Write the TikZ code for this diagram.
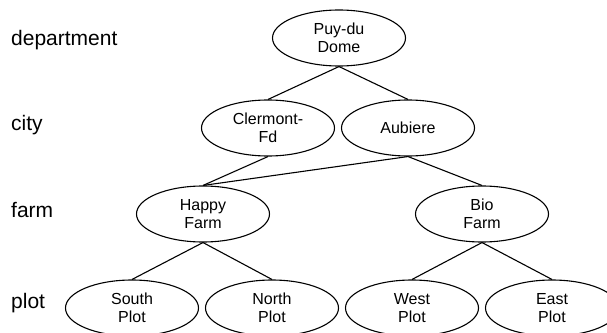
\documentclass[tikz,border=0pt]{standalone}
\usepackage{fontspec}
\setmainfont{Liberation Sans}
\usetikzlibrary{shapes.geometric}

\tikzset{
  entity/.style={draw=black, ellipse, line width=1.1pt, inner sep=0pt,
    minimum width=133pt, minimum height=56pt, align=center,
    font=\fontsize{16}{18}\selectfont},
  levellabel/.style={anchor=base west, inner sep=0pt,
    font=\fontsize{21}{24}\selectfont},
  link/.style={draw=black, line width=1.1pt}
}

\begin{document}
\begin{tikzpicture}[x=1pt, y=-1pt]
  \clip (0,0) rectangle (607,332);
  \useasboundingbox (0,0) rectangle (607,332);

  % hierarchy level names
  \node[levellabel] (ldep)  at (11,45)  {department};
  \node[levellabel] (lcity) at (11,130) {city};
  \node[levellabel] (lfarm) at (11,217) {farm};
  \node[levellabel] (lplot) at (11,308) {plot};

  % members of each level
  \node[entity] (puy)   at (339,38)  {Puy-du\\Dome};
  \node[entity] (cler)  at (268,128) {Clermont-\\Fd};
  \node[entity] (aub)   at (408,128) {Aubiere};
  \node[entity] (happy) at (203,214) {Happy\\Farm};
  \node[entity] (bio)   at (482,214) {Bio\\Farm};
  \node[entity] (south) at (132,308) {South\\Plot};
  \node[entity] (north) at (272,308) {North\\Plot};
  \node[entity] (west)  at (412,308) {West\\Plot};
  \node[entity] (east)  at (552,308) {East\\Plot};

  % roll-up links between levels
  \draw[link] (puy.south)   -- (cler.north);
  \draw[link] (puy.south)   -- (aub.north);
  \draw[link] (cler.south)  -- (happy.north);
  \draw[link] (aub.south)   -- (happy.north);
  \draw[link] (aub.south)   -- (bio.north);
  \draw[link] (happy.south) -- (south.north);
  \draw[link] (happy.south) -- (north.north);
  \draw[link] (bio.south)   -- (west.north);
  \draw[link] (bio.south)   -- (east.north);
\end{tikzpicture}
\end{document}
